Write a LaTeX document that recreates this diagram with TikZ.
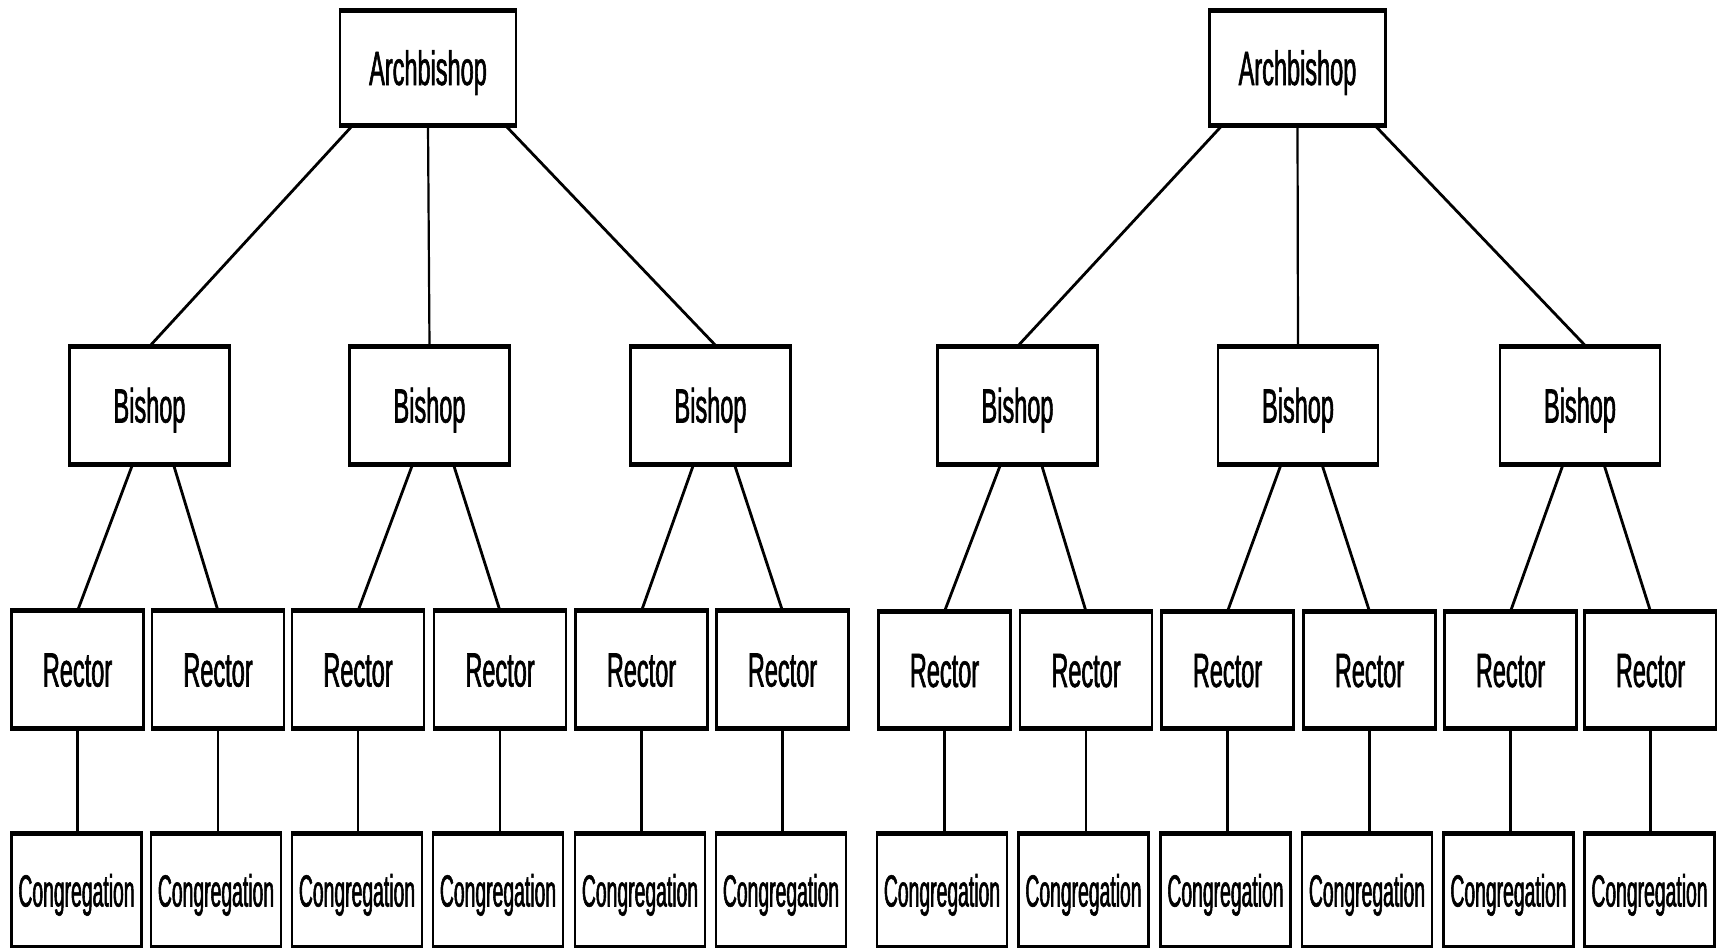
\documentclass[tikz,border=0pt]{standalone}
\usepackage{fontspec}
\setmainfont{Liberation Sans}
\newfontfamily\lblfont{Liberation Sans}[FakeStretch=0.49,FakeBold=1.2]
\newfontfamily\congfont{Liberation Sans}[FakeStretch=0.43,FakeBold=1.2]
\usetikzlibrary{calc}
\tikzset{
  orgbox/.style={draw, line width=2.2pt, inner sep=0pt, text depth=0pt, align=center},
  archbox/.style={orgbox, minimum width=176pt, minimum height=112pt, text height=34pt, font=\lblfont\fontsize{48}{48}\selectfont},
  bishopbox/.style={orgbox, minimum width=160pt, minimum height=116pt, text height=34pt, font=\lblfont\fontsize{48}{48}\selectfont},
  rectorbox/.style={orgbox, minimum width=132pt, minimum height=115pt, text height=34pt, font=\lblfont\fontsize{48}{48}\selectfont},
  congbox/.style={orgbox, minimum width=130pt, minimum height=111pt, text height=32pt, font=\congfont\fontsize{45}{45}\selectfont},
  thickedge/.style={line width=5pt},
  link/.style={line width=2.8pt},
  vlink/.style={line width=2.2pt},
}
\begin{document}
\begin{tikzpicture}[x=1pt,y=-1pt]
\useasboundingbox (0,0) rectangle (1717,948);
\fill[white] (0,0) rectangle (1717,948);
% ---------- left tree ----------
\node[archbox] (LA) at (428,68) {Archbishop};
\node[bishopbox] (LB1) at (149.5,405.5) {Bishop};
\node[bishopbox] (LB2) at (429.5,405.5) {Bishop};
\node[bishopbox] (LB3) at (710.5,405.5) {Bishop};
\node[rectorbox] (LR1) at (77.5,669.5) {Rector};
\node[rectorbox] (LR2) at (218,669.5) {Rector};
\node[rectorbox] (LR3) at (358,669.5) {Rector};
\node[rectorbox] (LR4) at (500,669.5) {Rector};
\node[rectorbox] (LR5) at (641.5,669.5) {Rector};
\node[rectorbox] (LR6) at (782.5,669.5) {Rector};
\node[congbox] (LC1) at (76.5,890.5) {Congregation};
\node[congbox] (LC2) at (216,890.5) {Congregation};
\node[congbox] (LC3) at (357,890.5) {Congregation};
\node[congbox] (LC4) at (498,890.5) {Congregation};
\node[congbox] (LC5) at (640,890.5) {Congregation};
\node[congbox] (LC6) at (781,890.5) {Congregation};
% ---------- right tree ----------
\node[archbox] (RA) at (1297.5,68) {Archbishop};
\node[bishopbox] (RB1) at (1017.5,405.5) {Bishop};
\node[bishopbox] (RB2) at (1298,405.5) {Bishop};
\node[bishopbox] (RB3) at (1580,405.5) {Bishop};
\node[rectorbox] (RR1) at (944.5,670) {Rector};
\node[rectorbox] (RR2) at (1086,670) {Rector};
\node[rectorbox] (RR3) at (1227.5,670) {Rector};
\node[rectorbox] (RR4) at (1369.5,670) {Rector};
\node[rectorbox] (RR5) at (1510.5,670) {Rector};
\node[rectorbox] (RR6) at (1650.5,670) {Rector};
\node[congbox] (RC1) at (942,890.5) {Congregation};
\node[congbox] (RC2) at (1083.5,890.5) {Congregation};
\node[congbox] (RC3) at (1225.5,890.5) {Congregation};
\node[congbox] (RC4) at (1367,890.5) {Congregation};
\node[congbox] (RC5) at (1508.5,890.5) {Congregation};
\node[congbox] (RC6) at (1649.5,890.5) {Congregation};
% thick top and bottom edges
\foreach \n in {LA,LB1,LB2,LB3,LR1,LR2,LR3,LR4,LR5,LR6,LC1,LC2,LC3,LC4,LC5,LC6,
                RA,RB1,RB2,RB3,RR1,RR2,RR3,RR4,RR5,RR6,RC1,RC2,RC3,RC4,RC5,RC6}{
  \draw[thickedge] (\n.north west) -- (\n.north east) (\n.south west) -- (\n.south east);
}
% ---------- connectors ----------
\foreach \s in {L,R}{
  \draw[link] ($(\s A.south west)+(14,0)$) -- (\s B1.north);
  \draw[vlink] (\s A.south) -- (\s B2.north);
  \draw[link] ($(\s A.south east)+(-12,0)$) -- ($(\s B3.north)+(6,0)$);
  \draw[link] ($(\s B1.south)+(-17,0)$) -- (\s R1.north);
  \draw[link] ($(\s B1.south)+(24,0)$) -- (\s R2.north);
  \draw[link] ($(\s B2.south)+(-17,0)$) -- (\s R3.north);
  \draw[link] ($(\s B2.south)+(24,0)$) -- (\s R4.north);
  \draw[link] ($(\s B3.south)+(-17,0)$) -- (\s R5.north);
  \draw[link] ($(\s B3.south)+(24,0)$) -- (\s R6.north);
  \foreach \i in {1,...,6}{
    \draw[vlink] (\s R\i.south) -- (\s R\i.south |- \s C\i.north);
  }
}
\end{tikzpicture}
\end{document}
